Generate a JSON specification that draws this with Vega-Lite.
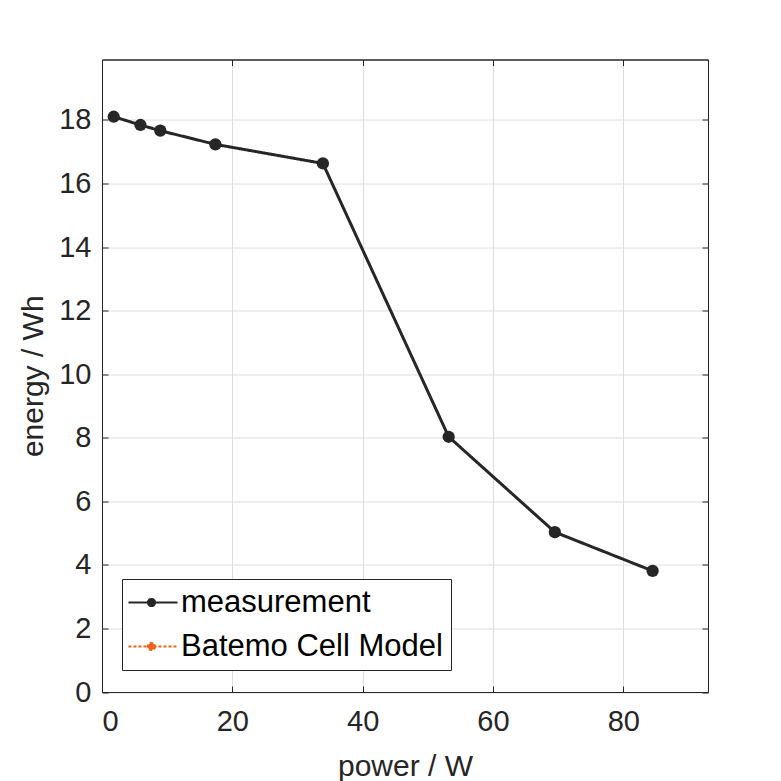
{
  "$schema": "https://vega.github.io/schema/vega-lite/v6.json",
  "description": "Energy versus power, measurement and cell model.",
  "width": 606,
  "height": 632.5,
  "autosize": {"type": "none"},
  "padding": {"left": 102, "top": 59.5, "right": 73, "bottom": 89},
  "background": "white",
  "data": {
    "values": [
      {"power": 1.8, "energy": 18.1, "series": "measurement"},
      {"power": 5.9, "energy": 17.84, "series": "measurement"},
      {"power": 8.95, "energy": 17.66, "series": "measurement"},
      {"power": 17.4, "energy": 17.23, "series": "measurement"},
      {"power": 33.9, "energy": 16.63, "series": "measurement"},
      {"power": 53.2, "energy": 8.03, "series": "measurement"},
      {"power": 69.5, "energy": 5.03, "series": "measurement"},
      {"power": 84.5, "energy": 3.81, "series": "measurement"}
    ]
  },
  "layer": [
    {
      "mark": {"type": "line", "strokeWidth": 3},
      "encoding": {
        "x": {
          "field": "power",
          "type": "quantitative",
          "scale": {"domain": [0, 93], "nice": false, "zero": false},
          "axis": {
            "orient": "bottom",
            "title": "power / W",
            "values": [0, 20, 40, 60, 80],
            "grid": true,
            "labelPadding": 21,
            "titlePadding": 15
          }
        },
        "y": {
          "field": "energy",
          "type": "quantitative",
          "scale": {"domain": [0, 19.9], "nice": false, "zero": false},
          "axis": {
            "orient": "left",
            "title": "energy / Wh",
            "values": [0, 2, 4, 6, 8, 10, 12, 14, 16, 18],
            "grid": true,
            "labelPadding": 17,
            "titlePadding": 10
          }
        },
        "color": {
          "field": "series",
          "type": "nominal",
          "scale": {"domain": ["measurement", "Batemo Cell Model"], "range": ["#262626", "#F0601A"]},
          "legend": {
            "title": null,
            "orient": "none",
            "legendX": 20,
            "legendY": 519.5,
            "encode": {"symbols": {"update": {"fill": {"scale": "color", "field": "value"}, "opacity": {"value": 1}}}}
          }
        },
        "strokeDash": {
          "field": "series",
          "type": "nominal",
          "scale": {"domain": ["measurement", "Batemo Cell Model"], "range": [[1, 0], [3, 2]]},
          "legend": {"title": null, "orient": "none", "legendX": 20, "legendY": 519.5}
        }
      }
    },
    {
      "mark": {"type": "point", "filled": true, "shape": "circle", "size": 150, "color": "#262626", "opacity": 1},
      "encoding": {
        "x": {
          "field": "power",
          "type": "quantitative",
          "axis": {"orient": "top", "title": null, "labels": false, "grid": false, "values": [0, 20, 40, 60, 80]}
        },
        "y": {
          "field": "energy",
          "type": "quantitative",
          "axis": {"orient": "right", "title": null, "labels": false, "grid": false, "values": [0, 2, 4, 6, 8, 10, 12, 14, 16, 18]}
        }
      }
    }
  ],
  "resolve": {"axis": {"x": "independent", "y": "independent"}},
  "config": {
    "font": "Liberation Sans",
    "view": {"stroke": "#262626", "strokeWidth": 1},
    "axis": {
      "domainColor": "#262626",
      "domainWidth": 1,
      "tickColor": "#262626",
      "tickSize": -6,
      "tickWidth": 1,
      "gridColor": "#dedede",
      "gridWidth": 1,
      "labelFont": "Liberation Sans",
      "labelFontSize": 29,
      "labelColor": "#262626",
      "titleFont": "Liberation Sans",
      "titleFontSize": 30,
      "titleFontWeight": "normal",
      "titleColor": "#262626"
    },
    "legend": {
      "strokeColor": "#262626",
      "fillColor": "white",
      "padding": 8,
      "rowPadding": 12,
      "labelFont": "Liberation Sans",
      "labelFontSize": 31,
      "labelColor": "#000000",
      "labelLimit": 0,
      "labelOffset": 20,
      "symbolType": "M-1.42,0H2.67M0.8,0A0.3,0.3 0 1,1 0.2,0A0.3,0.3 0 1,1 0.8,0Z",
      "symbolSize": 576,
      "symbolStrokeWidth": 2
    }
  }
}
